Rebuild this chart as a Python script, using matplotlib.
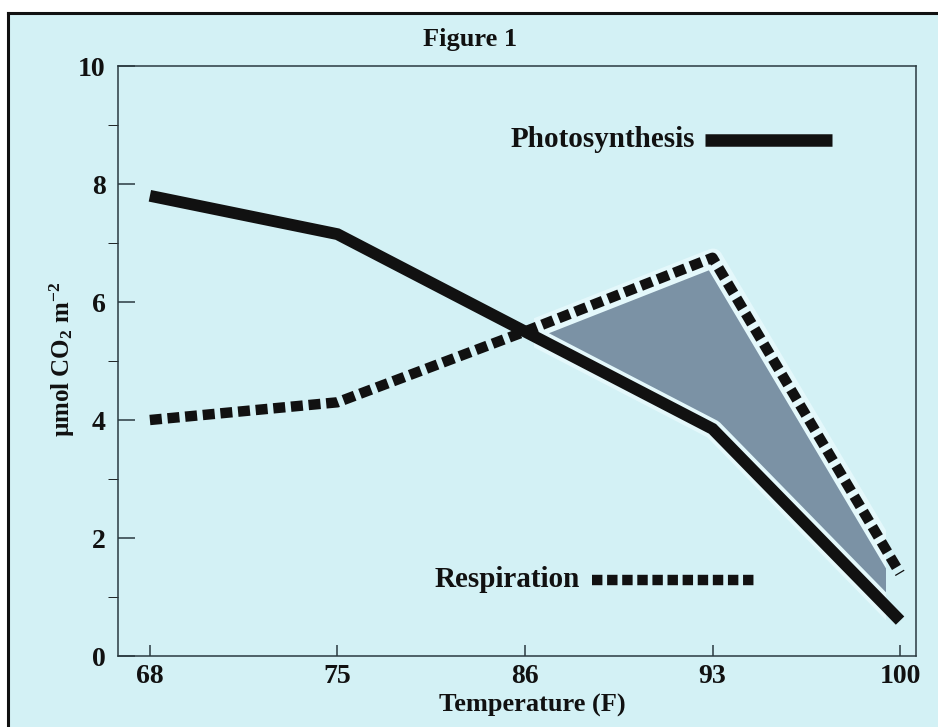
import matplotlib.pyplot as plt
import matplotlib.patches as mpatches
import matplotlib.lines as mlines
import numpy as np

plt.rcParams['mathtext.fontset'] = 'custom'
plt.rcParams['mathtext.rm'] = 'Liberation Serif:bold'
plt.rcParams['mathtext.bf'] = 'Liberation Serif:bold'
plt.rcParams['mathtext.it'] = 'Liberation Serif:bold'

# data
temps = ['68', '75', '86', '93', '100']
photosynthesis = [7.8, 7.15, 5.5, 3.85, 0.6]
respiration = [4.0, 4.3, 5.5, 6.75, 1.4]

bg = '#d3f1f5'
ink = '#111111'
serif = {'family': 'Liberation Serif', 'weight': 'bold'}

fig = plt.figure(figsize=(9.38, 7.27), dpi=100)
fig.patch.set_facecolor('white')

# cyan panel with black frame on the left and top (scan edge)
fig.patches.append(mpatches.Rectangle((8/938, 0), 1, 1 - 13/727, transform=fig.transFigure,
                                      facecolor=bg, edgecolor='none', zorder=-10))
fig.lines.append(mlines.Line2D([8/938, 8/938], [0, 1 - 13/727], transform=fig.transFigure,
                               color=ink, lw=2.2))
fig.lines.append(mlines.Line2D([8/938, 1], [1 - 13/727, 1 - 13/727], transform=fig.transFigure,
                               color=ink, lw=2.2))

ax = fig.add_axes([118/938, 71/727, 798/938, 590/727])
ax.set_facecolor('none')

x = np.arange(len(temps))
p = np.array(photosynthesis)
r = np.array(respiration)

# shaded area where respiration exceeds photosynthesis
shade = ax.fill_between(x, p, r, where=(r >= p), interpolate=True,
                        facecolor='#7b92a5', edgecolor='#e4f8fb', linewidth=14, zorder=1)
clip = mpatches.Rectangle((2.05, 0), 1.87, 10, transform=ax.transData)
shade.set_clip_path(clip)

ax.plot(x, p, color=ink, lw=8.5, solid_capstyle='butt', solid_joinstyle='miter', zorder=3)
ax.plot(x, r, color=ink, lw=7.5, linestyle=(0, (1.15, 0.55)), dash_capstyle='butt', zorder=3)

# inline legend
ax.plot([0.736, 0.895], [0.875, 0.875], transform=ax.transAxes, color=ink, lw=9,
        solid_capstyle='butt')
ax.text(0.723, 0.875, 'Photosynthesis', transform=ax.transAxes, ha='right', va='center',
        fontdict=serif, fontsize=21, color=ink)
ax.plot([0.594, 0.797], [0.129, 0.129], transform=ax.transAxes, color=ink, lw=7.5,
        linestyle=(0, (1.0, 0.45)), dash_capstyle='butt')
ax.text(0.579, 0.129, 'Respiration', transform=ax.transAxes, ha='right', va='center',
        fontdict=serif, fontsize=21, color=ink)

ax.set_xlim(-0.17, 4.085)
ax.set_ylim(0, 10)
ax.set_xticks(x)
ax.set_xticklabels(temps)
ax.set_yticks([0, 2, 4, 6, 8, 10])
ax.set_yticks([1, 3, 5, 7, 9], minor=True)
ax.tick_params(axis='both', direction='in', colors='#2a3a40', labelcolor=ink, width=1.1)
ax.tick_params(axis='y', which='major', length=12, pad=9)
ax.tick_params(axis='y', which='minor', length=7)
ax.tick_params(axis='x', which='major', length=8, pad=6)
for lab in ax.get_xticklabels() + ax.get_yticklabels():
    lab.set_fontfamily('Liberation Serif')
    lab.set_fontweight('bold')
    lab.set_fontsize(20)
for s in ax.spines.values():
    s.set_color('#2a3a40')
    s.set_linewidth(1.1)

fig.text(0.501, 0.945, 'Figure 1', ha='center', va='center', fontdict=serif, fontsize=19, color=ink)
fig.text(0.567, 0.03, 'Temperature (F)', ha='center', va='center', fontdict=serif, fontsize=19, color=ink)
fig.text(0.066, 0.505, r'µmol CO$_\mathbf{2}$ m$^\mathbf{-2}$', ha='center', va='center',
         rotation=90, fontdict=serif, fontsize=18, color=ink)

fig.savefig('out.png', dpi=100)
